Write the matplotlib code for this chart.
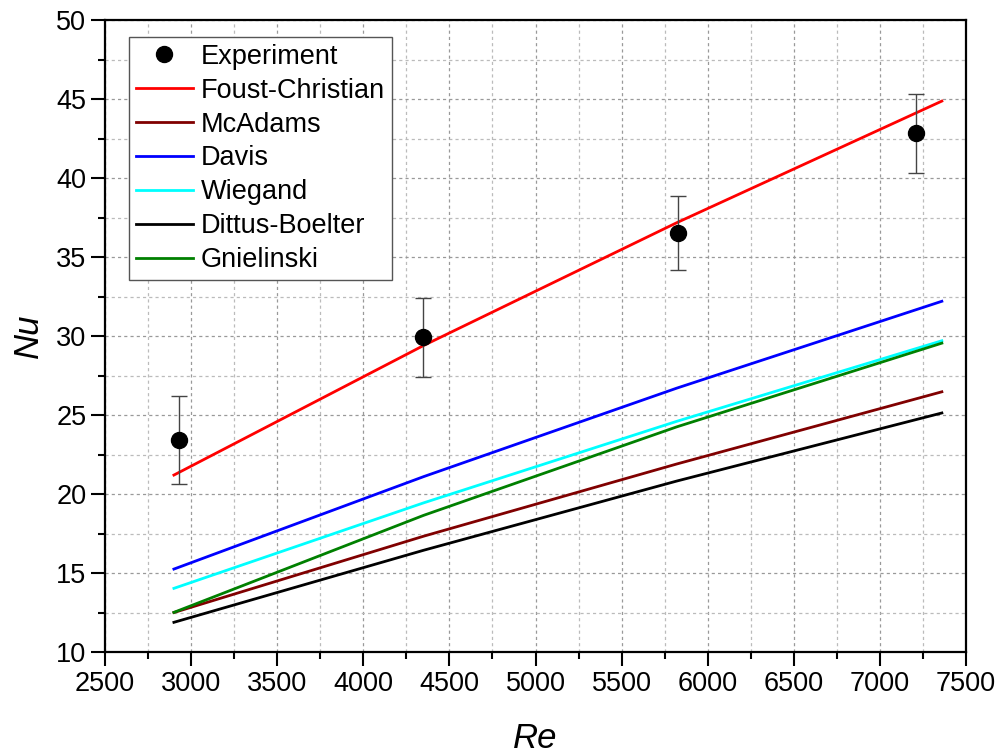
import numpy as np
import matplotlib.pyplot as plt
from matplotlib.ticker import MultipleLocator

plt.rcParams['font.family'] = ['Liberation Sans', 'DejaVu Sans']

# experiment
re_exp = [2930, 4347, 5826, 7210]
nu_exp = [23.42, 29.92, 36.54, 42.83]
nu_err = [2.8, 2.5, 2.35, 2.5]

# correlations
re_cor = [2900, 4350, 5820, 7360]
foust = [21.2, 29.4, 37.17, 44.87]
mcadams = [12.5, 17.33, 21.9, 26.47]
davis = [15.25, 21.1, 26.7, 32.2]
wiegand = [14.03, 19.44, 24.6, 29.7]
dittus = [11.88, 16.44, 20.82, 25.13]
gniel = [12.51, 18.65, 24.25, 29.55]

fig = plt.figure(figsize=(10.08, 7.53), dpi=100)
ax = fig.add_axes([0.1042, 0.1341, 0.8541, 0.8393])

ax.errorbar(re_exp, nu_exp, yerr=nu_err, fmt='none', ecolor='#444444',
            elinewidth=1.0, capsize=5.5, capthick=1.0, zorder=3)
ax.plot(re_exp, nu_exp, 'o', color='black', ms=11.5, label='Experiment', zorder=4)
ax.plot(re_cor, foust, color='#ff0000', lw=2, label='Foust-Christian')
ax.plot(re_cor, mcadams, color='#800000', lw=2, label='McAdams')
ax.plot(re_cor, davis, color='#0000ff', lw=2, label='Davis')
ax.plot(re_cor, wiegand, color='#00ffff', lw=2, label='Wiegand')
ax.plot(re_cor, dittus, color='black', lw=2, label='Dittus-Boelter')
ax.plot(re_cor, gniel, color='#008000', lw=2, label='Gnielinski')

ax.set_xlim(2500, 7500)
ax.set_ylim(10, 50)
ax.xaxis.set_major_locator(MultipleLocator(500))
ax.xaxis.set_minor_locator(MultipleLocator(250))
ax.yaxis.set_major_locator(MultipleLocator(5))
ax.yaxis.set_minor_locator(MultipleLocator(2.5))

ax.grid(which='major', color='#999999', ls=(0, (2.5, 2.5)), lw=0.9)
ax.grid(which='minor', color='#bbbbbb', ls=(0, (2.5, 2.5)), lw=0.9)
ax.set_axisbelow(True)

ax.tick_params(which='major', direction='out', length=10, width=1.5, labelsize=19.5)
ax.tick_params(which='minor', direction='out', length=5, width=1.5)
for s in ax.spines.values():
    s.set_linewidth(1.6)

ax.set_xlabel('Re', fontsize=25, style='italic', labelpad=18)
ax.set_ylabel('Nu', fontsize=25, style='italic', labelpad=8)

leg = ax.legend(loc='upper left', bbox_to_anchor=(0.028, 0.973), fontsize=19.5,
                fancybox=False, edgecolor='#555555', framealpha=1,
                handlelength=2.1, handletextpad=0.3, labelspacing=0.29,
                borderpad=0.25, borderaxespad=0)
leg.get_frame().set_linewidth(1.0)

fig.savefig('out.png', dpi=100)
